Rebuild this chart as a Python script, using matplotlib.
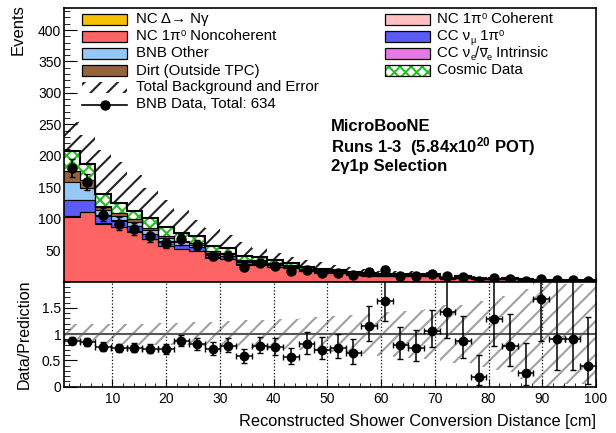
import numpy as np
import matplotlib
matplotlib.use("Agg")
import matplotlib.pyplot as plt
from matplotlib.patches import Rectangle
from matplotlib.lines import Line2D
from matplotlib.ticker import MultipleLocator

plt.rcParams['font.family'] = ['Liberation Sans', 'DejaVu Sans']
plt.rcParams['mathtext.fontset'] = 'custom'
plt.rcParams['mathtext.rm'] = 'Liberation Sans'
plt.rcParams['mathtext.it'] = 'Liberation Sans:italic'
plt.rcParams['mathtext.bf'] = 'Liberation Sans:bold'
plt.rcParams['hatch.linewidth'] = 1.5

# --- binning : 34 bins between 1 and 100 cm ---
x_min, x_max, n_bins = 1.0, 100.0, 34

# --- stack components (events per bin) ---
nc_1pi0_noncoh = [103, 110, 92, 86, 79, 67, 56, 51, 48, 38, 35, 27, 27, 23, 21, 16, 14,
                  13, 11, 9, 8, 8, 8.5, 8, 4, 5.5, 3.8, 3.2, 3.6, 2.8, 1.6, 1.5, 1.5, 1.7]
nc_1pi0_coh = [1.5, 1.2, 0.8, 0.7, 0.6, 0.5, 0.5, 0.4, 0.4, 0.3, 0.3, 0.2, 0.2, 0.2, 0.2, 0.1, 0.1,
               0.1, 0.1, 0.1, 0.1, 0.1, 0.1, 0.1, 0.1, 0.1, 0.1, 0.1, 0.1, 0.1, 0.1, 0.1, 0.1, 0.1]
cc_numu_1pi0 = [25, 18, 12, 10, 9, 8, 7, 6, 6, 4.5, 4.5, 3.5, 3, 2.5, 2.5, 2, 1.8,
                1.5, 1.3, 1.1, 1, 0.9, 1, 0.9, 0.5, 0.6, 0.4, 0.4, 0.4, 0.3, 0.2, 0.2, 0.2, 0.2]
cc_nue = [0.5, 0.5, 0.4, 0.4, 0.3, 0.3, 0.3, 0.3, 0.2, 0.2, 0.2, 0.1, 0.1, 0.1, 0.1, 0.1, 0.1,
          0.1, 0.1, 0.1, 0.1, 0.1, 0.1, 0.1, 0.1, 0.1, 0.1, 0.1, 0.1, 0.1, 0.1, 0.1, 0.1, 0.1]
bnb_other = [29, 19, 8, 7, 6, 6, 5, 4.5, 4, 3, 3, 2.5, 2.2, 2, 1.6, 1.3, 1.2,
             1.1, 0.9, 0.8, 0.7, 0.7, 0.7, 0.6, 0.3, 0.5, 0.3, 0.3, 0.3, 0.2, 0.15, 0.1, 0.1, 0.1]
dirt = [16, 12, 6, 5, 4, 3.5, 3, 2.5, 2.5, 2, 2, 1.5, 1.3, 1.2, 1, 0.8, 0.7,
        0.6, 0.5, 0.4, 0.4, 0.4, 0.4, 0.4, 0.2, 0.3, 0.2, 0.2, 0.2, 0.1, 0.1, 0.1, 0.1, 0.1]
nc_delta = [0.8, 0.7, 0.6, 0.5, 0.5, 0.4, 0.4, 0.3, 0.3, 0.3, 0.2, 0.1, 0.1, 0.1, 0.1, 0.1, 0.1,
            0.1, 0.1, 0.1, 0.1, 0.1, 0.1, 0.1, 0.1, 0.1, 0.1, 0.1, 0.1, 0.1, 0.1, 0.1, 0.1, 0.1]
cosmic = [31, 25, 20, 16, 13, 15, 14, 12, 10.5, 7.7, 7.8, 5, 5, 4.4, 3.5, 3.1, 2,
          2.5, 1.9, 1.4, 1.3, 1.2, 1.4, 1.1, 0.3, 0.8, 0.5, 0.25, 0.4, 0.3, 0.05, 0, 0, 0.1]

# upper edge of the "Total Background and Error" band (events)
band_top = [254, 233, 209, 190, 170, 149, 130, 114, 98, 85, 74, 63, 53, 45, 39, 34, 31,
            26, 23, 20, 17, 16, 16, 15, 9, 11, 8, 7, 7, 6, 4, 4, 4, 4]

# fractional uncertainty shown in the ratio panel
rel_err = [0.20, 0.19, 0.19, 0.19, 0.20, 0.20, 0.21, 0.21, 0.22, 0.23, 0.24, 0.26, 0.27, 0.28,
           0.29, 0.31, 0.33, 0.35, 0.37, 0.39, 0.41, 0.43, 0.45, 0.48, 0.55, 0.55, 0.62, 0.68,
           0.72, 0.85, 1.0, 1.0, 0.95, 0.95]

# BNB data
data = [180, 158, 106, 92, 83, 72, 61, 67, 58, 40, 41, 23, 30, 25, 17, 19, 14,
        14, 10, 15, 19, 9, 9, 12, 8, 7, 1, 6, 4, 1, 4, 2, 2, 1]

col_delta, col_noncoh, col_other, col_dirt = '#f5c000', '#ff6464', '#96c8f5', '#96643c'
col_coh, col_numu, col_nue, col_cosmic = '#ffc0c0', '#5a5af5', '#e678e6', '#22c022'

components = [
    (nc_1pi0_noncoh, col_noncoh),
    (nc_1pi0_coh, col_coh),
    (cc_numu_1pi0, col_numu),
    (cc_nue, col_nue),
    (bnb_other, col_other),
    (dirt, col_dirt),
    (nc_delta, col_delta),
]

edges = np.linspace(x_min, x_max, n_bins + 1)
centers = 0.5 * (edges[1:] + edges[:-1])
half_w = 0.5 * (edges[1] - edges[0])

W, H = 616, 433
fig = plt.figure(figsize=(W / 100, H / 100), dpi=100)
ax = fig.add_axes([64 / W, 1 - 281.5 / H, 532 / W, 273.5 / H])
axr = fig.add_axes([64 / W, 1 - 386.5 / H, 532 / W, 105 / H], sharex=ax)

# --- stacked histogram ---
bottom = np.zeros(n_bins)
for vals, col in components:
    top = bottom + np.array(vals)
    ax.stairs(top, edges, baseline=bottom, fill=True, color=col, zorder=2)
    bottom = top
top = bottom + np.array(cosmic)
ax.stairs(top, edges, baseline=bottom, fill=True, facecolor='white', edgecolor=col_cosmic,
          hatch='xxx', linewidth=0, zorder=2)
# outlines of the cumulative stack
bottom = np.zeros(n_bins)
for vals, col in components:
    bottom = bottom + np.array(vals)
    ax.stairs(bottom, edges, baseline=None, color='black', linewidth=0.8, zorder=3)
total = bottom + np.array(cosmic)
ax.stairs(total, edges, baseline=None, color='black', linewidth=1.5, zorder=3)

# total error band (only the part above the stack is visible)
ax.stairs(band_top, edges, baseline=0, fill=True, facecolor='none', edgecolor='#222222',
          hatch='//', linewidth=0, zorder=1)

# data points with Poisson errors
d = np.array(data, dtype=float)
err_lo = np.sqrt(np.clip(d - 0.25, 0, None))
err_hi = np.sqrt(d + 0.75) + 1
ax.errorbar(centers, d, yerr=[err_lo, err_hi], fmt='o', color='black', markersize=6.5,
            elinewidth=1.2, capsize=2, zorder=5)

ax.set_xlim(x_min, x_max)
ax.set_ylim(0, 435)
ax.set_yticks([50, 100, 150, 200, 250, 300, 350, 400])
ax.yaxis.set_minor_locator(MultipleLocator(10))
ax.tick_params(axis='both', which='both', direction='in', labelsize=10, pad=2)
ax.tick_params(axis='y', which='major', length=9)
ax.tick_params(axis='y', which='minor', length=4.5)
ax.tick_params(axis='x', labelbottom=False, which='both')
ax.set_ylabel('Events', fontsize=12, loc='top')
ax.yaxis.set_label_coords(-0.072, 1.015)

ax.text(0.502, 0.565, 'MicroBooNE', transform=ax.transAxes, fontsize=12, fontweight='bold',
        va='center')
ax.text(0.502, 0.492, r'Runs 1-3  (5.84x10$^{\mathbf{20}}$ POT)', transform=ax.transAxes,
        fontsize=12, fontweight='bold', va='center')
ax.text(0.502, 0.419, '2γ1p Selection', transform=ax.transAxes, fontsize=12,
        fontweight='bold', va='center')

# --- legend, drawn by hand in pixel positions (two columns) ---
renderer = fig.canvas.get_renderer()
FS = 10.8


def fx(px):
    return px / W


def fy(py):
    return 1 - py / H


def legend_box(x0, yc, face, hatch=None, edge='black', lw=0.9):
    r = Rectangle((fx(x0), fy(yc + 5.5)), 45 / W, 11 / H, transform=fig.transFigure,
                  facecolor=face, edgecolor=edge, hatch=hatch, linewidth=lw)
    fig.add_artist(r)


def legend_text(x0, yc, parts):
    # parts: (string, kind) with kind 'n' normal, 'sub', 'sup' or 'bar' (overlined)
    x = x0
    base = yc + 4
    for s, kind in parts:
        size, dy = FS, 0
        if kind == 'sub':
            size, dy = FS * 0.62, 2.5
        elif kind == 'sup':
            size, dy = FS * 0.62, -4.5
        t = fig.text(fx(x), fy(base + dy), s, fontsize=size, va='baseline', ha='left')
        bb = t.get_window_extent(renderer)
        if kind == 'bar':
            fig.add_artist(Line2D([fx(x + 0.5), fx(bb.x1 - 0.5)], [fy(base - 9.5)] * 2,
                                  color='black', linewidth=0.8, transform=fig.transFigure))
        x = bb.x1


rows = [19.3, 36.3, 53.3, 70.5, 87.5, 104.5]
legend_box(82, rows[0], col_delta)
legend_text(136, rows[0], [('NC Δ→ Nγ', 'n')])
legend_box(82, rows[1], col_noncoh)
legend_text(136, rows[1], [('NC 1π', 'n'), ('0', 'sup'), (' Noncoherent', 'n')])
legend_box(82, rows[2], col_other)
legend_text(136, rows[2], [('BNB Other', 'n')])
legend_box(82, rows[3], col_dirt)
legend_text(136, rows[3], [('Dirt (Outside TPC)', 'n')])
legend_box(82, rows[4], 'none', hatch='//', edge='#222222', lw=0)
legend_text(136, rows[4], [('Total Background and Error', 'n')])
fig.add_artist(Line2D([fx(82), fx(127)], [fy(rows[5]), fy(rows[5])], color='black',
                      linewidth=1.2, marker=None, transform=fig.transFigure))
fig.add_artist(Line2D([fx(104.5)], [fy(rows[5])], color='black', marker='o', markersize=6.5,
                      transform=fig.transFigure))
legend_text(136, rows[5], [('BNB Data, Total: 634', 'n')])

legend_box(385, rows[0], col_coh)
legend_text(437, rows[0], [('NC 1π', 'n'), ('0', 'sup'), (' Coherent', 'n')])
legend_box(385, rows[1], col_numu)
legend_text(437, rows[1], [('CC ν', 'n'), ('μ', 'sub'), (' 1π', 'n'), ('0', 'sup')])
legend_box(385, rows[2], col_nue)
legend_text(437, rows[2], [('CC ν', 'n'), ('e', 'sub'), ('/', 'n'), ('ν', 'bar'), ('e', 'sub'),
                           (' Intrinsic', 'n')])
legend_box(385, rows[3], 'white', hatch='xxx', edge=col_cosmic, lw=0)
legend_box(385, rows[3], 'none')
legend_text(437, rows[3], [('Cosmic Data', 'n')])

# --- ratio panel ---
pred = total
ratio = d / pred
axr.stairs(1 + np.array(rel_err), edges, baseline=np.clip(1 - np.array(rel_err), 0, None),
           fill=True, facecolor='none', edgecolor='#a0a0a0', hatch='//', linewidth=0, zorder=1)
axr.axhline(1, color='#555555', linewidth=1.5, zorder=2)
for xv in range(10, 100, 10):
    axr.axvline(xv, color='black', linestyle=':', linewidth=0.9, zorder=1)
axr.errorbar(centers, ratio, xerr=half_w, yerr=[err_lo / pred, err_hi / pred], fmt='o',
             color='black', markersize=6, elinewidth=1.1, capsize=2.2, zorder=4)

axr.set_ylim(0, 2)
axr.set_yticks([0, 0.5, 1, 1.5])
axr.set_yticklabels(['0', '0.5', '1', '1.5'])
axr.yaxis.set_minor_locator(MultipleLocator(0.1))
axr.set_xticks(range(10, 101, 10))
axr.xaxis.set_minor_locator(MultipleLocator(2))
axr.tick_params(axis='both', which='both', direction='in', labelsize=10, pad=2)
axr.tick_params(axis='x', which='both', pad=4)
axr.tick_params(axis='y', which='major', length=9)
axr.tick_params(axis='y', which='minor', length=4.5)
axr.tick_params(axis='x', which='major', length=6)
axr.tick_params(axis='x', which='minor', length=3)
axr.set_ylabel('Data/Prediction', fontsize=11.5)
axr.yaxis.set_label_coords(-0.06, 0.5)
axr.set_xlabel('Reconstructed Shower Conversion Distance [cm]', fontsize=11.8, loc='right',
               labelpad=6)

for a in (ax, axr):
    for s in a.spines.values():
        s.set_linewidth(1.2)

fig.savefig('out.png', dpi=100)
